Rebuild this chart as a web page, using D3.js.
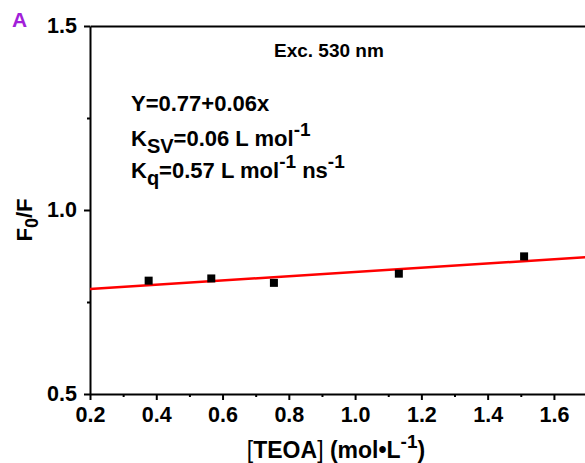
<!DOCTYPE html>
<html><head><meta charset="utf-8">
<script src="https://cdn.jsdelivr.net/npm/d3@7"></script>
<style>body{margin:0;background:#fff}svg{display:block}</style>
</head><body>
<svg id="c" width="585" height="463"></svg>
<script>
// Data
const teoa = [0.377, 0.566, 0.755, 1.132, 1.51];
const f0f = [0.808, 0.814, 0.802, 0.827, 0.874];
const fitIntercept = 0.774;
const fitSlope = 0.0575;
const xTickVals = [0.2, 0.4, 0.6, 0.8, 1.0, 1.2, 1.4, 1.6];
const xMinorVals = [0.3, 0.5, 0.7, 0.9, 1.1, 1.3, 1.5, 1.7];
const yTickVals = [0.5, 1.0, 1.5];
const yMinorVals = [0.75, 1.25];

const svg = d3.select('#c');
const FONT = '"Liberation Sans", Arial, Helvetica, sans-serif';
const x = d3.scaleLinear().domain([0.2, 1.8]).range([90, 620.2]);
const y = d3.scaleLinear().domain([0.5, 1.5]).range([394, 26]);

const g = svg.append('g').attr('font-family', FONT);

// x axis (bottom)
g.append('g').attr('transform', `translate(0,${y(0.5)})`)
  .call(d3.axisBottom(x).tickValues(xTickVals).tickFormat(d3.format('.1f')).tickSizeInner(6).tickSizeOuter(0).tickPadding(7));
g.append('g').attr('transform', `translate(0,${y(0.5)})`)
  .call(d3.axisBottom(x).tickValues(xMinorVals).tickFormat('').tickSizeInner(3).tickSizeOuter(0))
  .select('.domain').remove();
// y axis (left)
g.append('g').attr('transform', `translate(${x(0.2)},0)`)
  .call(d3.axisLeft(y).tickValues(yTickVals).tickFormat(d3.format('.1f')).tickSizeInner(6).tickSizeOuter(0).tickPadding(7));
g.append('g').attr('transform', `translate(${x(0.2)},0)`)
  .call(d3.axisLeft(y).tickValues(yMinorVals).tickFormat('').tickSizeInner(3).tickSizeOuter(0))
  .select('.domain').remove();
// top axis line
g.append('g').attr('transform', `translate(0,${y(1.5)})`)
  .call(d3.axisTop(x).tickValues([]).tickSizeOuter(0));

g.selectAll('.domain').attr('stroke', '#000').attr('stroke-width', 2);
g.selectAll('.tick line').attr('stroke', '#000').attr('stroke-width', 2);
g.selectAll('.tick text').attr('font-family', FONT).attr('font-size', 21.5).attr('font-weight', 'bold').attr('fill', '#000');

// fit line
const line = d3.line().x(d => x(d)).y(d => y(fitIntercept + fitSlope * d));
g.append('path').datum([0.2, 1.8]).attr('d', line)
  .attr('stroke', '#ff0000').attr('stroke-width', 2.5).attr('fill', 'none');

// points
const s = 8;
g.selectAll('rect.pt').data(teoa.map((v, i) => [v, f0f[i]])).enter()
  .append('rect').attr('class', 'pt')
  .attr('x', d => x(d[0]) - s / 2).attr('y', d => y(d[1]) - s / 2)
  .attr('width', s).attr('height', s).attr('fill', '#000');

// panel label
g.append('text').attr('x', 12).attr('y', 27).attr('font-size', 21).attr('font-weight', 'bold')
  .attr('fill', '#a21fd9').text('A');

// annotations
const ann = g.append('g').attr('font-size', 22).attr('font-weight', 'bold').attr('fill', '#000');
ann.append('text').attr('x', 274).attr('y', 57).attr('font-size', 19).text('Exc. 530 nm');
ann.append('text').attr('x', 131).attr('y', 111).text('Y=0.77+0.06x');
const k1 = ann.append('text').attr('x', 131).attr('y', 146);
k1.append('tspan').text('K');
k1.append('tspan').attr('dy', 7).attr('font-size', 20).text('SV');
k1.append('tspan').attr('dy', -7).text('=0.06 L mol');
k1.append('tspan').attr('dy', -10).attr('font-size', 19).text('-1');
const k2 = ann.append('text').attr('x', 131).attr('y', 178);
k2.append('tspan').text('K');
k2.append('tspan').attr('dy', 7).attr('font-size', 20).text('q');
k2.append('tspan').attr('dy', -7).text('=0.57 L mol');
k2.append('tspan').attr('dy', -10).attr('font-size', 19).text('-1');
k2.append('tspan').attr('dy', 10).text(' ns');
k2.append('tspan').attr('dy', -10).attr('font-size', 19).text('-1');

// y label
const yl = g.append('text').attr('transform', 'translate(32,220) rotate(-90)')
  .attr('text-anchor', 'middle').attr('font-size', 22).attr('font-weight', 'bold');
yl.append('tspan').text('F');
yl.append('tspan').attr('dy', 6).attr('font-size', 18).text('0');
yl.append('tspan').attr('dy', -6).text('/F');

// x label
const xl = g.append('text').attr('x', 336).attr('y', 458).attr('text-anchor', 'middle')
  .attr('font-size', 23).attr('font-weight', 'bold');
xl.append('tspan').attr('font-weight', 'normal').text('[');
xl.append('tspan').text('TEOA');
xl.append('tspan').attr('font-weight', 'normal').text(']');
xl.append('tspan').text(' (mol\u2022L');
xl.append('tspan').attr('dy', -10).attr('font-size', 19).text('-1');
xl.append('tspan').attr('dy', 10).text(')');
</script>
</body></html>
